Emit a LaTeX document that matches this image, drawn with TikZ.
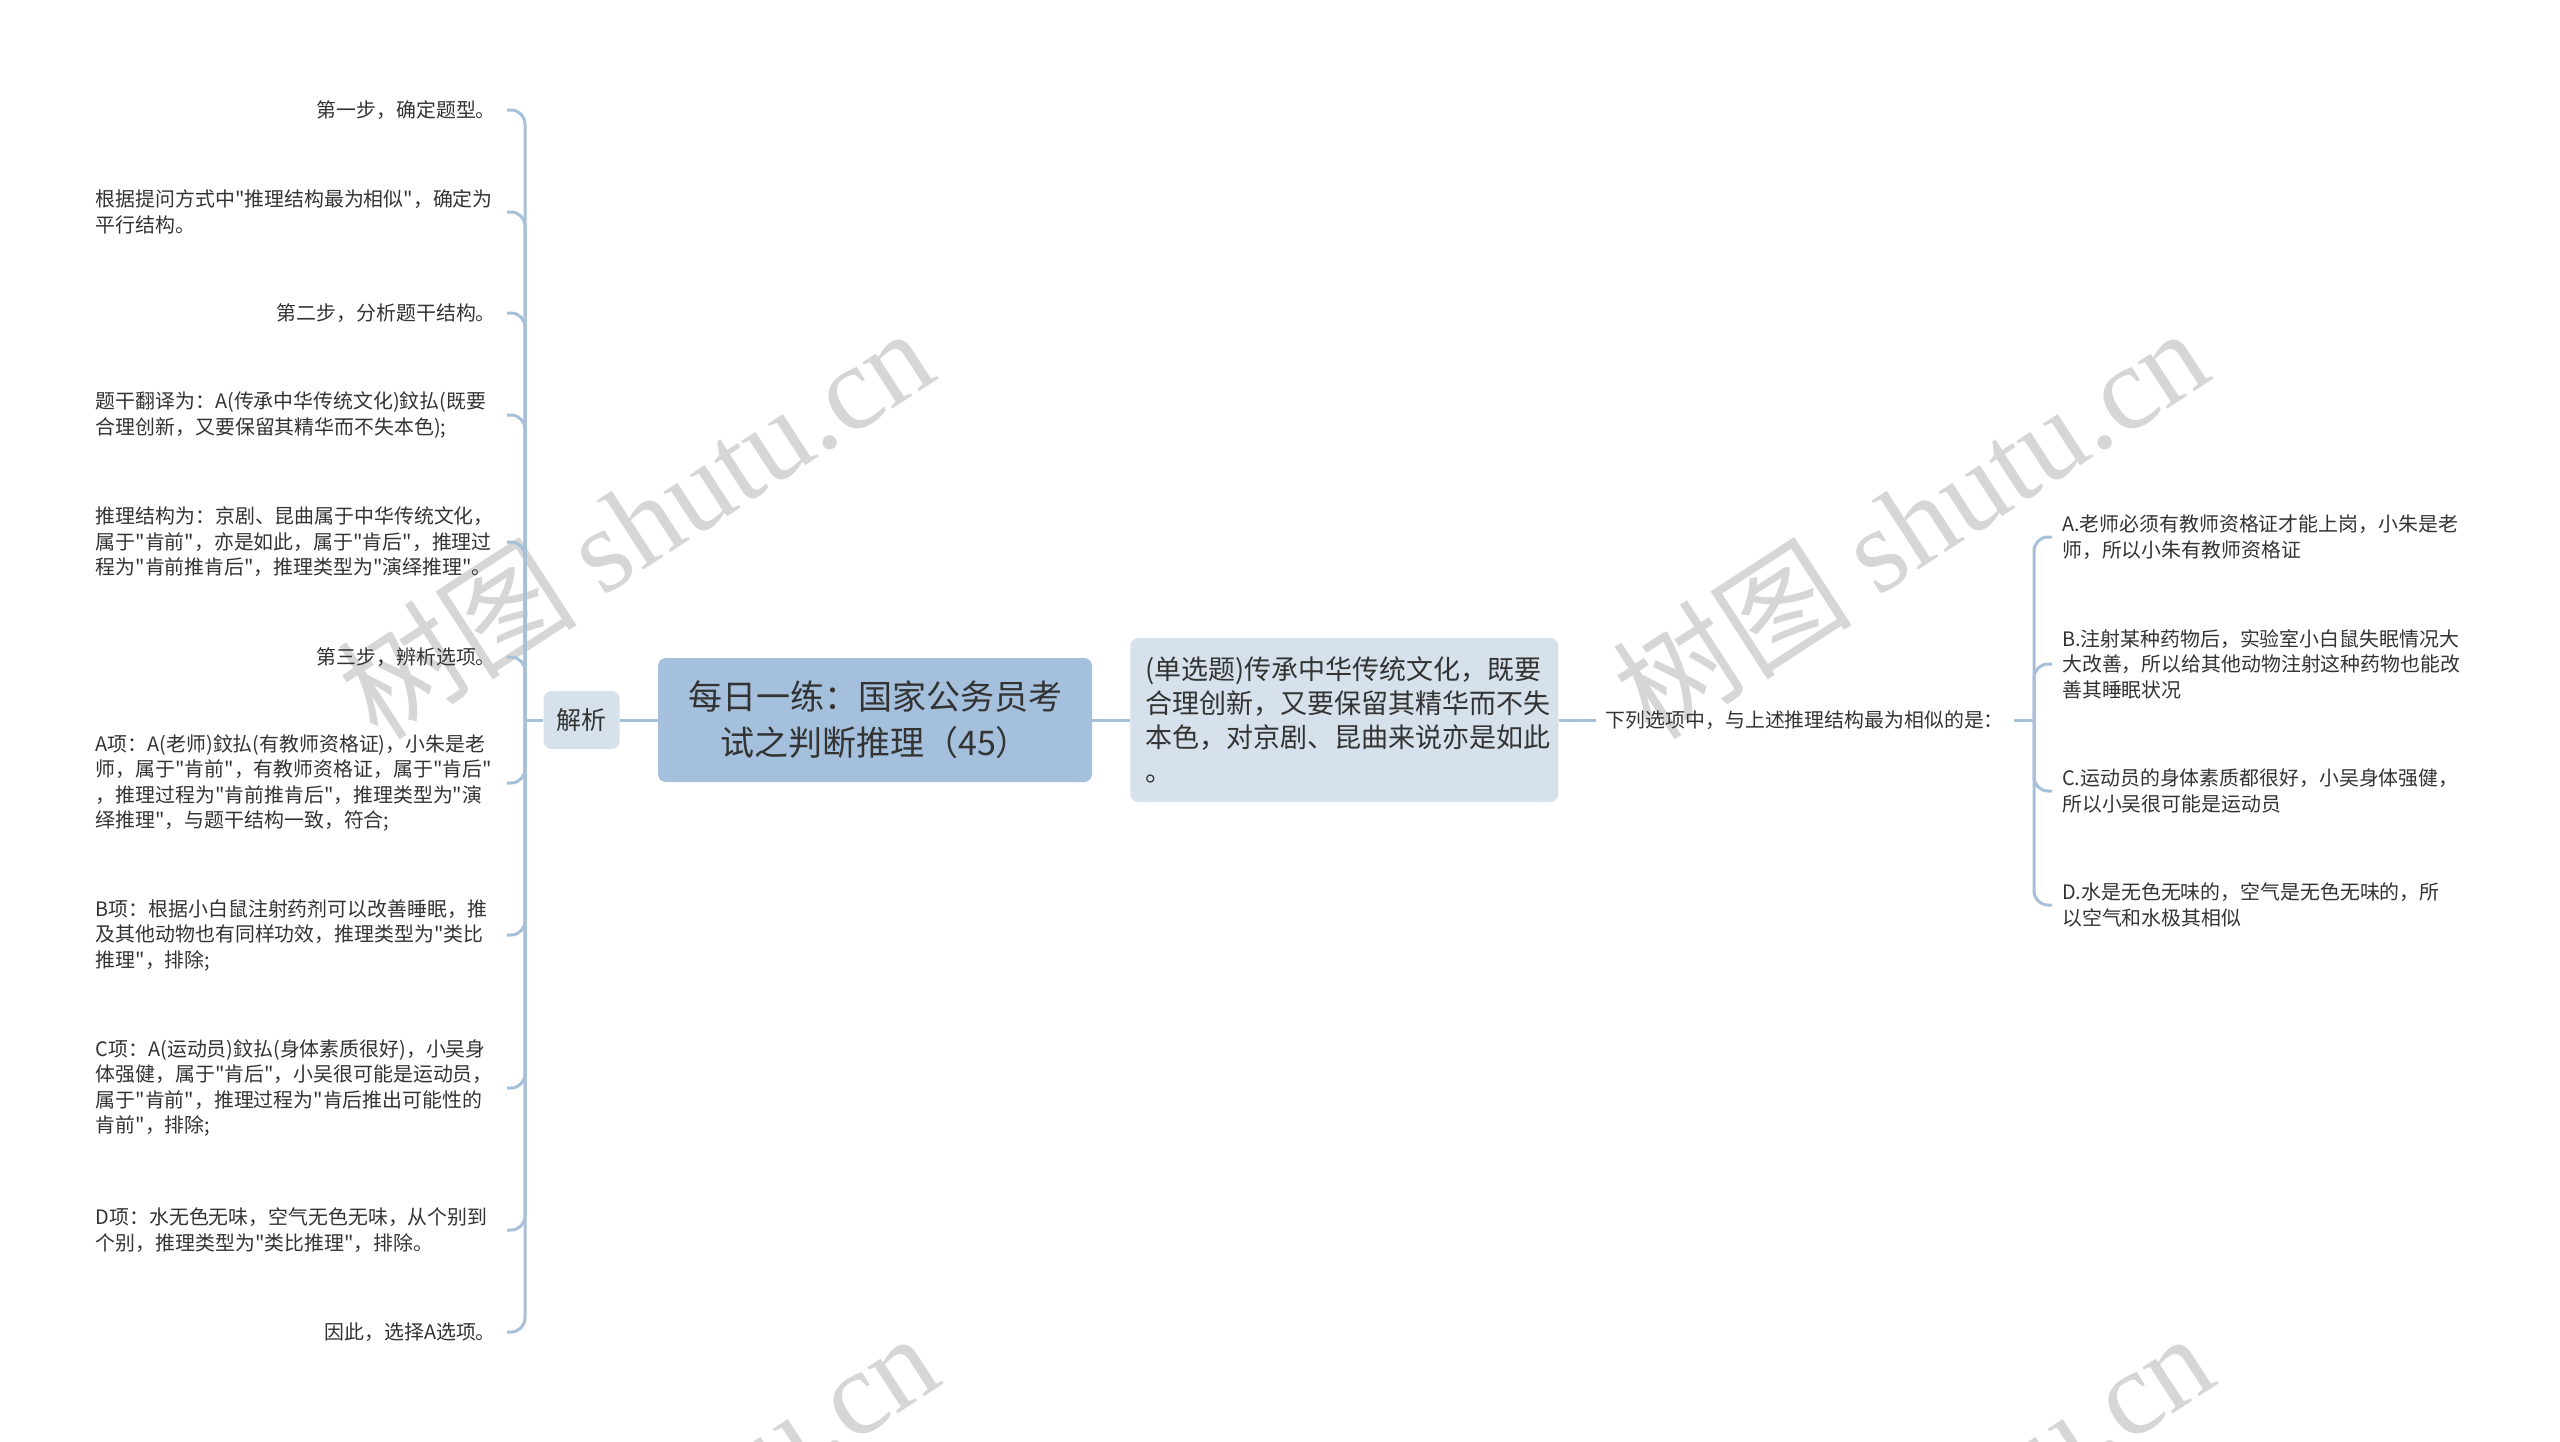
\documentclass[tikz,border=0pt]{standalone}
\usepackage{fontspec}
\setmainfont{Noto Sans CJK SC}[Ligatures=TeXOff]
\newfontfamily\wmfont{Liberation Serif}
\usepackage{tikz}
\usepackage{xcolor}
\usetikzlibrary{positioning}

\definecolor{linec}{HTML}{A7C0D9}
\definecolor{rootc}{HTML}{A4C0DC}
\definecolor{subc}{HTML}{D6E1EB}
\definecolor{txtc}{HTML}{333333}
\definecolor{wmc}{HTML}{D6D6D6}

\tikzset{
  rootbox/.style={fill=rootc, rounded corners=8pt, minimum width=434pt, minimum height=124pt,
    align=center, text=txtc, font=\fontsize{34}{46}\selectfont},
  subbox/.style={fill=subc, rounded corners=8pt, text=txtc},
  leaf/.style={align=left, text=txtc, inner ysep=0pt, font=\fontsize{19.9}{25.5}\selectfont},
  leftleaf/.style={leaf, anchor=east, inner xsep=11pt},
  leftpara/.style={leftleaf, text width=400pt},
  rightleaf/.style={leaf, anchor=west, inner xsep=10pt},
  branch/.style={draw=linec, line width=3pt, rounded corners=14pt},
  wmark/.style={text=wmc, rotate=33, anchor=base, inner sep=0pt, font=\fontsize{120}{120}\selectfont}
}

\begin{document}
\begin{tikzpicture}[x=1pt,y=-1pt]
  \useasboundingbox (0,0) rectangle (2560,1441);
  \begin{scope}
    \clip (0,0) rectangle (2560,1441);
    \node(wm1) [wmark] at (660,560) {树图 \wmfont shutu.cn};
    \node(wm2) [wmark] at (1935,560) {树图 \wmfont shutu.cn};
    \node(wm3) [wmark] at (665,1565) {树图 \wmfont shutu.cn};
    \node(wm4) [wmark] at (1940,1565) {树图 \wmfont shutu.cn};
  \end{scope}

  \node(root) [rootbox] at (875,720) {每日一练：国家公务员考\\试之判断推理（45）};
  \node(jiexi) [subbox, left=38pt of root, minimum width=76pt, minimum height=58pt,
    font=\fontsize{25}{30}\selectfont] {解析};
  \node(timu) [subbox, right=38pt of root, text width=398pt, inner xsep=15pt,
    minimum height=164pt, align=left, font=\fontsize{27}{34}\selectfont]
    {(单选题)传承中华传统文化，既要\\合理创新，又要保留其精华而不失\\本色，对京剧、昆曲来说亦是如此\\。};
  \node(xialie) [leaf, right=37pt of timu, inner xsep=10pt] {下列选项中，与上述推理结构最为相似的是：};

  \coordinate(lj) at (525,720);
  \coordinate(rj) at (2034,720);

  \node(step1) [leftleaf] at (507,110) {第一步，确定题型。};
  \node(tiwen) [leftpara] at (507,212) {根据提问方式中"推理结构最为相似"，确定为\\平行结构。};
  \node(step2) [leftleaf] at (507,313) {第二步，分析题干结构。};
  \node(fanyi) [leftpara] at (507,415) {题干翻译为：A(传承中华传统文化)鈫払(既要\\合理创新，又要保留其精华而不失本色);};
  \node(jiegou) [leftpara] at (507,542) {推理结构为：京剧、昆曲属于中华传统文化，\\属于"肯前"，亦是如此，属于"肯后"，推理过\\程为"肯前推肯后"，推理类型为"演绎推理"。};
  \node(step3) [leftleaf] at (507,657) {第三步，辨析选项。};
  \node(xiangA) [leftpara] at (507,783) {A项：A(老师)鈫払(有教师资格证)，小朱是老\\师，属于"肯前"，有教师资格证，属于"肯后"\\，推理过程为"肯前推肯后"，推理类型为"演\\绎推理"，与题干结构一致，符合;};
  \node(xiangB) [leftpara] at (507,935) {B项：根据小白鼠注射药剂可以改善睡眠，推\\及其他动物也有同样功效，推理类型为"类比\\推理"，排除;};
  \node(xiangC) [leftpara] at (507,1088) {C项：A(运动员)鈫払(身体素质很好)，小吴身\\体强健，属于"肯后"，小吴很可能是运动员，\\属于"肯前"，推理过程为"肯后推出可能性的\\肯前"，排除;};
  \node(xiangD) [leftpara] at (507,1230) {D项：水无色无味，空气无色无味，从个别到\\个别，推理类型为"类比推理"，排除。};
  \node(jielun) [leftleaf] at (507,1332) {因此，选择A选项。};

  \node(optA) [rightleaf] at (2052,537) {A.老师必须有教师资格证才能上岗，小朱是老\\师，所以小朱有教师资格证};
  \node(optB) [rightleaf] at (2052,664) {B.注射某种药物后，实验室小白鼠失眠情况大\\大改善，所以给其他动物注射这种药物也能改\\善其睡眠状况};
  \node(optC) [rightleaf] at (2052,791) {C.运动员的身体素质都很好，小吴身体强健，\\所以小吴很可能是运动员};
  \node(optD) [rightleaf] at (2052,905) {D.水是无色无味的，空气是无色无味的，所\\以空气和水极其相似};

  \draw[branch] (jiexi) -- (root);
  \draw[branch] (root) -- (timu);
  \draw[branch] (timu) -- (xialie);
  \draw[branch] (jiexi) -- (lj);
  \draw[branch] (xialie) -- (rj);

  \draw[branch] (lj) |- (step1.east);
  \draw[branch] (lj) |- (tiwen.east);
  \draw[branch] (lj) |- (step2.east);
  \draw[branch] (lj) |- (fanyi.east);
  \draw[branch] (lj) |- (jiegou.east);
  \draw[branch] (lj) |- (step3.east);
  \draw[branch] (lj) |- (xiangA.east);
  \draw[branch] (lj) |- (xiangB.east);
  \draw[branch] (lj) |- (xiangC.east);
  \draw[branch] (lj) |- (xiangD.east);
  \draw[branch] (lj) |- (jielun.east);

  \draw[branch] (rj) |- (optA.west);
  \draw[branch] (rj) |- (optB.west);
  \draw[branch] (rj) |- (optC.west);
  \draw[branch] (rj) |- (optD.west);
\end{tikzpicture}
\end{document}
